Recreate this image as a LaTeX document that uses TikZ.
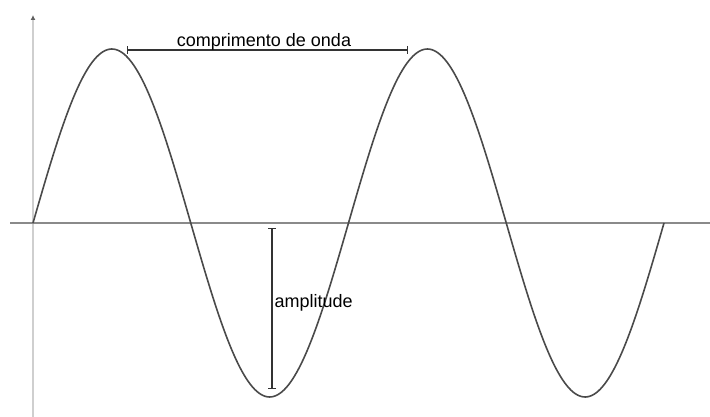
\documentclass[tikz,border=0pt]{standalone}
\usepackage{fontspec}
\setmainfont{Liberation Sans}
\usetikzlibrary{arrows.meta}
\definecolor{axisgray}{HTML}{8A8A8A}
\definecolor{vaxis}{HTML}{CFCFCF}
\definecolor{tipgray}{HTML}{606060}
\definecolor{wavegray}{HTML}{4A4A4A}
\definecolor{markgray}{HTML}{333333}
\tikzset{
  wave/.style={draw=wavegray, line width=1.6pt},
  haxis/.style={draw=axisgray, line width=1.4pt},
  vaxisline/.style={draw=vaxis, line width=2pt, -{Latex[length=5pt,width=5pt,color=tipgray]}},
  measure/.style={draw=markgray, line width=1.4pt, {Bar[width=8pt]}-{Bar[width=8pt]}},
  lbl/.style={inner sep=0pt, font=\fontsize{18pt}{20pt}\selectfont, text=black}
}
\begin{document}
\begin{tikzpicture}[x=1pt,y=-1pt]
\useasboundingbox (0,0) rectangle (710,417);
\coordinate (vbot) at (33,417);
\coordinate (vtop) at (33,15);
\coordinate (hl) at (10,223);
\coordinate (hr) at (710,223);
\draw[vaxisline] (vbot) -- (vtop);
\draw[haxis] (hl) -- (hr);
\draw[wave] plot[domain=0:631, samples=300, smooth] ({33+\x},{223-174*sin((\x/315.5)*360)});
\coordinate (wl1) at (127,50);
\coordinate (wl2) at (408,50);
\draw[measure] (wl1) -- (wl2);
\node[lbl] (wltext) at (264,42) {comprimento de onda};
\coordinate (am1) at (272,228);
\coordinate (am2) at (272,389);
\draw[measure] (am1) -- (am2);
\node[lbl, anchor=west] (amtext) at (274.5,303) {amplitude};
\end{tikzpicture}
\end{document}
